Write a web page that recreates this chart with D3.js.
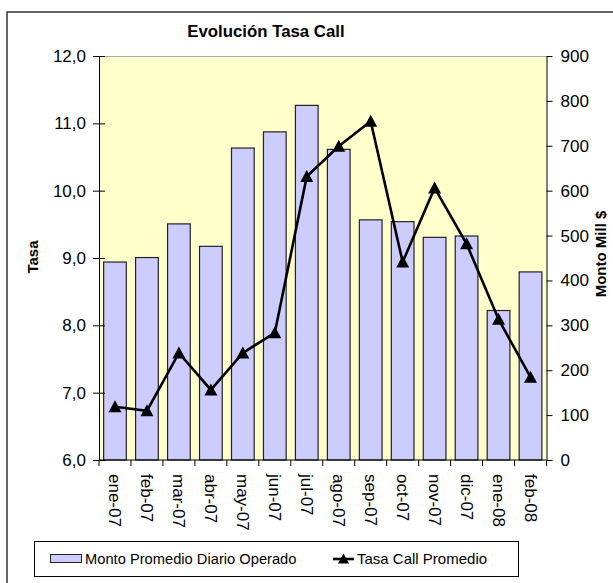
<!DOCTYPE html>
<html>
<head>
<meta charset="utf-8">
<script src="https://cdn.jsdelivr.net/npm/d3@7"></script>
<style>
  html, body { margin: 0; padding: 0; background: #fff; }
  svg { display: block; font-family: "Liberation Sans", Arial, sans-serif; }
</style>
</head>
<body>
<svg id="chart" width="613" height="583"></svg>
<script>
const categories = ["ene-07","feb-07","mar-07","abr-07","may-07","jun-07","jul-07","ago-07","sep-07","oct-07","nov-07","dic-07","ene-08","feb-08"];
const montoPromedio = [441, 451, 526, 476, 695, 731, 790, 692, 535, 531, 496, 499, 333, 419];
const tasaCall = [6.79, 6.73, 7.59, 7.04, 7.59, 7.89, 10.21, 10.66, 11.03, 8.94, 10.04, 9.21, 8.09, 7.23];
const leftTicks = [6, 7, 8, 9, 10, 11, 12];
const rightTicks = [0, 100, 200, 300, 400, 500, 600, 700, 800, 900];
const titleText = "Evolución Tasa Call";
const leftTitle = "Tasa";
const rightTitle = "Monto Mill $";
const legendBars = "Monto Promedio Diario Operado";
const legendLine = "Tasa Call Promedio";

const loc = d3.formatLocale({decimal: ",", thousands: ".", grouping: [3], currency: ["$", ""]});
const fmt1 = loc.format(".1f");
const FONT = "'Liberation Sans', Arial, sans-serif";
const TICKFS = 17;

const svg = d3.select("#chart");
const L = 99, R = 546.5, T = 56, B = 460;

// outer frame
svg.append("path").attr("d", `M7,600 V12 H640`).attr("fill", "none").attr("stroke", "#333").attr("stroke-width", 1.5);

const x = d3.scaleBand().domain(categories).range([L, R]).paddingInner(0.29).paddingOuter(0.145);
const yL = d3.scaleLinear().domain([6, 12]).range([B, T]);
const yR = d3.scaleLinear().domain([0, 900]).range([B, T]);

// plot area
svg.append("rect").attr("x", L).attr("y", T).attr("width", R - L).attr("height", B - T)
  .attr("fill", "#FFFFCC").attr("stroke", "none");
svg.append("line").attr("x1", L).attr("x2", R).attr("y1", T + 0.5).attr("y2", T + 0.5).attr("stroke", "#aaa").attr("stroke-width", 1);

// bars
svg.append("g").selectAll("rect").data(categories).join("rect")
  .attr("x", d => x(d))
  .attr("width", x.bandwidth())
  .attr("y", (d, i) => yR(montoPromedio[i]))
  .attr("height", (d, i) => B - yR(montoPromedio[i]))
  .attr("fill", "#CCCCFF").attr("stroke", "#222").attr("stroke-width", 1.2);

// left axis
const gL = svg.append("g").attr("transform", `translate(${L},0)`)
  .call(d3.axisLeft(yL).tickValues(leftTicks).tickFormat(fmt1).tickSize(6).tickPadding(7).tickSizeOuter(0));
gL.selectAll(".tick line").attr("x1", 6);
// right axis
const gR = svg.append("g").attr("transform", `translate(${R},0)`)
  .call(d3.axisRight(yR).tickValues(rightTicks).tickFormat(d3.format("d")).tickSize(6).tickPadding(8).tickSizeOuter(0));
// bottom axis with ticks at band boundaries
const step = x.step();
const boundaries = categories.map(c => x(c) - step * x.paddingInner() / 2).concat([R]);
const gB = svg.append("g").attr("transform", `translate(0,${B})`);
gB.append("line").attr("x1", L).attr("x2", R).attr("stroke", "#000");
gB.selectAll("line.tk").data(boundaries).join("line").attr("class", "tk")
  .attr("x1", d => d).attr("x2", d => d).attr("y1", 0).attr("y2", 6).attr("stroke", "#000");
gB.selectAll("text").data(categories).join("text")
  .attr("transform", d => `translate(${x(d) + x.bandwidth() / 2},14) rotate(90)`)
  .attr("dy", "0.35em").attr("text-anchor", "start")
  .attr("font-size", TICKFS).attr("font-family", FONT).attr("fill", "#000").text(d => d);

[gL, gR].forEach(g => {
  g.attr("font-family", FONT).attr("font-size", TICKFS);
  g.selectAll("text").attr("font-size", TICKFS).attr("fill", "#000").attr("font-family", FONT);
  g.selectAll("line, path").attr("stroke", "#000");
});

// line
const line = d3.line().x((d, i) => x(categories[i]) + x.bandwidth() / 2).y(d => yL(d));
svg.append("path").datum(tasaCall).attr("d", line).attr("fill", "none").attr("stroke", "#000").attr("stroke-width", 2.6).attr("stroke-linejoin", "miter");
const tri = "M0,-6.5 L6.5,5.5 L-6.5,5.5 Z";
svg.append("g").selectAll("path").data(tasaCall).join("path")
  .attr("transform", (d, i) => `translate(${x(categories[i]) + x.bandwidth() / 2},${yL(d)})`)
  .attr("d", tri).attr("fill", "#000");

// titles
svg.append("text").attr("x", 266).attr("y", 37).attr("text-anchor", "middle")
  .attr("font-size", 16.8).attr("font-weight", "bold").text(titleText);
svg.append("text").attr("transform", "translate(38,257) rotate(-90)").attr("text-anchor", "middle")
  .attr("font-size", 15).attr("font-weight", "bold").text(leftTitle);
svg.append("text").attr("transform", "translate(606,254) rotate(-90)").attr("text-anchor", "middle")
  .attr("font-size", 15).attr("font-weight", "bold").text(rightTitle);

// legend
const lg = svg.append("g");
lg.append("rect").attr("x", 34.5).attr("y", 541.5).attr("width", 484).attr("height", 35)
  .attr("fill", "#fff").attr("stroke", "#000");
lg.append("rect").attr("x", 50.5).attr("y", 554.5).attr("width", 31).attr("height", 8)
  .attr("fill", "#CCCCFF").attr("stroke", "#222");
lg.append("text").attr("x", 85).attr("y", 559).attr("dy", "0.35em").attr("font-size", 14.7).text(legendBars);
lg.append("line").attr("x1", 333).attr("x2", 354).attr("y1", 559).attr("y2", 559).attr("stroke", "#000").attr("stroke-width", 2.6);
lg.append("path").attr("transform", "translate(343.5,559)").attr("d", "M0,-5.5 L5.5,4.5 L-5.5,4.5 Z").attr("fill", "#000");
lg.append("text").attr("x", 357).attr("y", 559).attr("dy", "0.35em").attr("font-size", 15).text(legendLine);
</script>
</body>
</html>
